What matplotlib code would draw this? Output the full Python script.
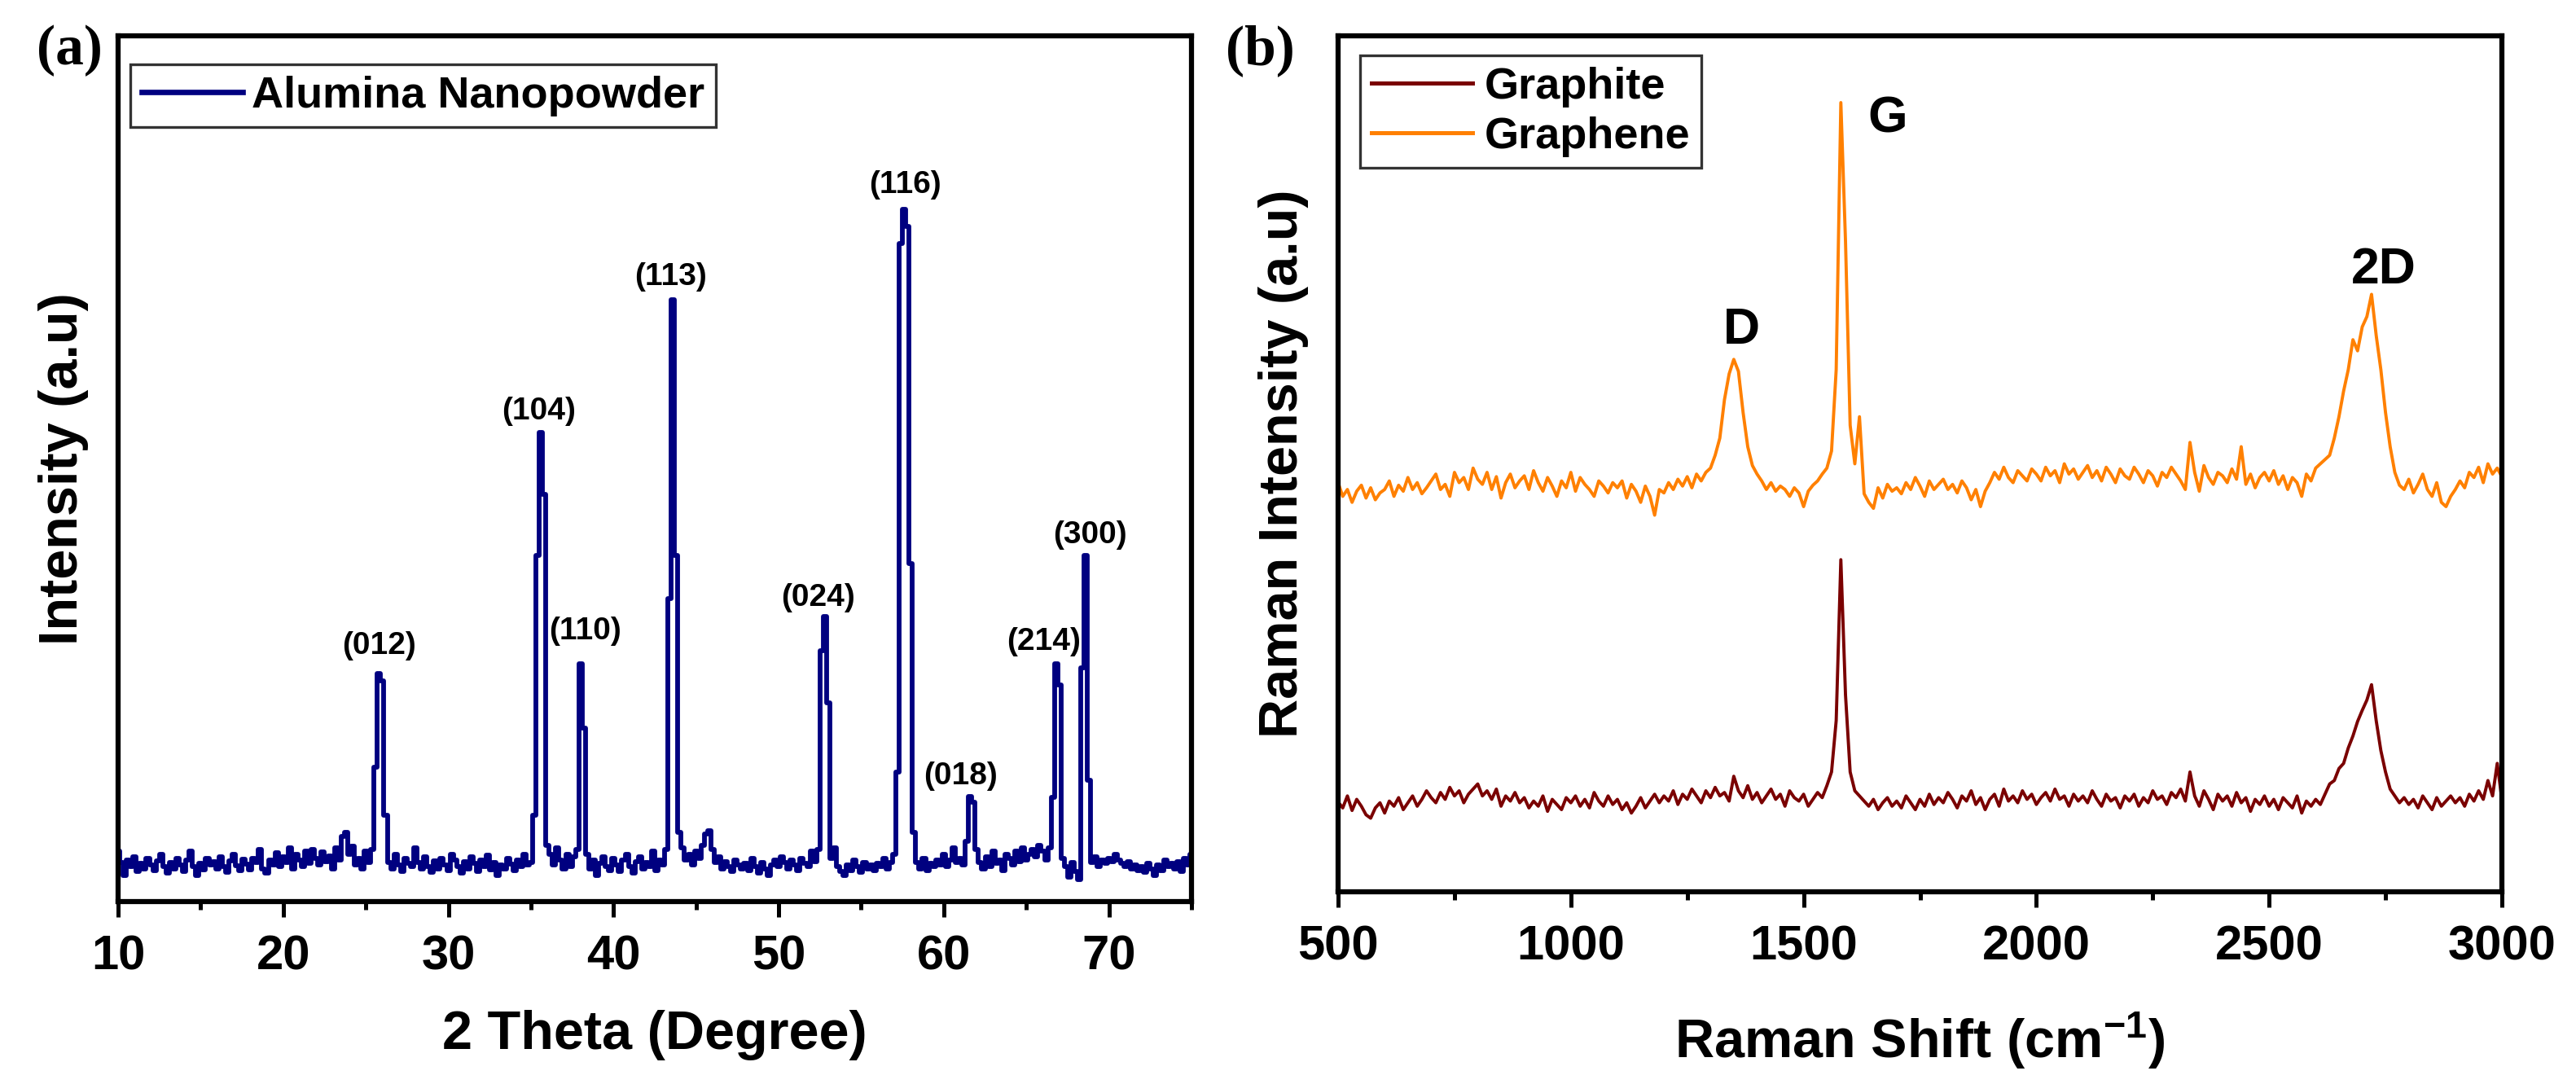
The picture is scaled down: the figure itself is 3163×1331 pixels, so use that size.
import numpy as np
import matplotlib
matplotlib.use("Agg")
import matplotlib.pyplot as plt

plt.rcParams['font.family'] = ['Liberation Sans', 'DejaVu Sans']
plt.rcParams['font.weight'] = 'bold'
plt.rcParams['mathtext.fontset'] = 'custom'
plt.rcParams['mathtext.rm'] = 'Liberation Sans:bold'
plt.rcParams['mathtext.bf'] = 'Liberation Sans:bold'
plt.rcParams['mathtext.it'] = 'Liberation Sans:bold:italic'

# ---- (a) XRD, 2 theta from 10 to 75 in 0.2 degree steps, intensity in a.u. ----
tt_start, tt_stop, tt_step = 10.0, 75.0, 0.2
xrd_counts = [
    58, 45, 30, 48, 40, 52, 35, 44, 38, 50,
    42, 36, 47, 55, 40, 33, 45, 38, 50, 42,
    35, 48, 58, 40, 30, 44, 37, 50, 42, 46,
    38, 52, 40, 34, 47, 55, 41, 36, 49, 43,
    37, 50, 45, 60, 38, 33, 48, 42, 56, 40,
    52, 45, 62, 38, 55, 48, 40, 58, 44, 60,
    50, 42, 57, 46, 53, 38, 62, 48, 75, 80,
    55, 64, 42, 50, 38, 58, 45, 60, 155, 263,
    255, 100, 45, 38, 55, 42, 35, 50, 44, 40,
    62, 45, 38, 52, 40, 34, 47, 38, 50, 42,
    36, 55, 48, 40, 33, 46, 38, 52, 44, 35,
    48, 40, 54, 37, 45, 30, 42, 38, 50, 43,
    36, 48, 40, 55, 42, 45, 100, 400, 542, 470,
    65, 55, 42, 62, 48, 38, 55, 40, 52, 60,
    275, 200, 55, 38, 48, 30, 44, 52, 40, 36,
    50, 42, 35, 48, 55, 40, 33, 46, 52, 38,
    45, 40, 58, 36, 48, 42, 60, 350, 695, 400,
    80, 62, 48, 55, 42, 58, 50, 65, 78, 82,
    60, 45, 52, 38, 46, 40, 35, 48, 42, 38,
    44, 36, 50, 40, 33, 45, 38, 30, 42, 48,
    40, 52, 45, 38, 48, 42, 36, 50, 44, 40,
    58, 46, 60, 290, 329, 230, 50, 62, 40, 35,
    30, 42, 36, 48, 40, 34, 45, 38, 42, 36,
    44, 40, 50, 38, 45, 55, 150, 760, 800, 780,
    390, 80, 45, 38, 50, 36, 44, 40, 48, 42,
    55, 40, 48, 62, 45, 50, 42, 70, 121, 115,
    60, 45, 38, 52, 40, 58, 44, 48, 36, 55,
    50, 42, 58, 46, 62, 48, 55, 60, 52, 65,
    58, 48, 62, 120, 275, 250, 50, 40, 28, 45,
    35, 25, 270, 400, 140, 45, 52, 40, 48, 44,
    50, 46, 55, 48, 44, 40, 46, 38, 42, 36,
    40, 34, 44, 38, 30, 42, 36, 48, 40, 44,
    38, 46, 35, 50, 42, 55,
]
hkl_labels = ['(012)', '(104)', '(110)', '(113)', '(024)', '(116)', '(018)', '(214)', '(300)']
hkl_tt = [25.8, 35.47, 38.3, 43.47, 52.4, 57.68, 61.0, 66.07, 68.84]
hkl_y = [295, 566, 312, 722, 351, 828, 145, 300, 423]

# ---- (b) Raman, 500 to 3000 cm-1 in 10 cm-1 steps ----
rs_start, rs_stop, rs_step = 500, 3000, 10
graphite = [
    105, 98, 112, 95, 108, 100, 90, 86, 98, 104,
    92, 106, 100, 110, 96, 104, 112, 100, 108, 118,
    110, 104, 116, 108, 122, 112, 118, 104, 114, 120,
    126, 112, 118, 108, 120, 100, 112, 106, 116, 104,
    110, 98, 106, 100, 112, 94, 108, 102, 96, 110,
    104, 112, 100, 108, 98, 116, 106, 100, 112, 102,
    108, 96, 104, 92, 100, 110, 98, 106, 114, 104,
    112, 106, 118, 102, 114, 108, 120, 112, 104, 118,
    110, 122, 112, 116, 106, 135, 118, 110, 124, 108,
    116, 104, 112, 120, 108, 114, 100, 118, 110, 106,
    114, 100, 108, 116, 110, 124, 140, 200, 388, 230,
    140, 118, 112, 106, 100, 108, 96, 104, 110, 100,
    106, 98, 112, 104, 96, 108, 100, 114, 102, 110,
    104, 116, 108, 98, 112, 106, 118, 102, 110, 96,
    108, 114, 100, 120, 106, 112, 104, 118, 108, 114,
    102, 110, 116, 106, 120, 108, 112, 100, 114, 106,
    112, 104, 118, 108, 100, 114, 106, 110, 98, 112,
    106, 114, 100, 110, 104, 118, 108, 112, 102, 116,
    110, 120, 106, 140, 112, 100, 118, 108, 96, 114,
    106, 112, 100, 116, 104, 110, 94, 108, 102, 112,
    100, 108, 96, 110, 104, 98, 112, 92, 106, 100,
    108, 102, 114, 126, 130, 144, 150, 168, 182, 199,
    212, 224, 242, 200, 165, 140, 120, 112, 104, 110,
    102, 108, 98, 112, 104, 96, 110, 100, 106, 112,
    104, 110, 100, 114, 106, 118, 108, 130, 112, 150,
    108,
]
graphene = [
    478, 462, 470, 455, 468, 475, 460, 472, 458, 466,
    470, 480, 462, 475, 468, 484, 470, 478, 465, 472,
    480, 488, 470, 476, 462, 490, 478, 484, 470, 495,
    482, 476, 490, 470, 485, 460, 478, 488, 472, 480,
    486, 470, 492, 478, 468, 484, 474, 462, 480, 472,
    490, 468, 484, 476, 470, 462, 480, 474, 466, 478,
    472, 480, 460, 476, 468, 455, 474, 462, 440, 470,
    466, 478, 470, 482, 474, 485, 472, 488, 480, 490,
    495, 510, 530, 575, 605, 622, 608, 560, 520, 498,
    488, 480, 470, 478, 468, 474, 470, 462, 472, 466,
    450, 468, 475, 480, 488, 495, 515, 610, 922, 760,
    545, 500, 555, 465, 455, 448, 472, 460, 476, 468,
    472, 465, 478, 470, 484, 474, 462, 480, 470, 476,
    482, 470, 476, 466, 480, 472, 458, 470, 450, 468,
    478, 490, 482, 496, 484, 478, 492, 486, 480, 494,
    488, 480, 496, 486, 492, 478, 500, 488, 494, 482,
    490, 498, 484, 492, 480, 496, 488, 478, 494, 486,
    482, 496, 488, 478, 492, 486, 474, 490, 484, 496,
    488, 480, 470, 525, 490, 468, 498, 484, 476, 490,
    486, 478, 494, 482, 520, 476, 488, 472, 484, 490,
    480, 492, 476, 486, 470, 484, 478, 462, 488, 480,
    495, 500, 505, 510, 530, 555, 585, 610, 645, 632,
    660, 672, 698, 650, 610, 560, 520, 490, 475, 470,
    482, 466, 476, 488, 470, 462, 478, 455, 450, 462,
    470, 480, 472, 490, 484, 496, 478, 500, 488, 495,
    485,
]
band_labels = ['D', 'G', '2D']
band_x = [1366, 1681, 2746]
band_y = [656, 903, 726]

two_theta = np.round(np.arange(tt_start, tt_stop + tt_step / 2, tt_step), 1)
shift = np.arange(rs_start, rs_stop + 1, rs_step)

W, H = 3163, 1331
fig = plt.figure(figsize=(W / 100, H / 100), dpi=100)

ax1 = fig.add_axes([145 / W, 1 - 1107 / H, 1318 / W, 1063 / H])
ax2 = fig.add_axes([1643 / W, 1 - 1095 / H, 1429 / W, 1051 / H])

# panel a
ax1.plot(two_theta, xrd_counts, color='#000080', lw=4.2, drawstyle='steps-mid',
         label='Alumina Nanopowder')
for lab, x, y in zip(hkl_labels, hkl_tt, hkl_y):
    ax1.text(x, y, lab, ha='center', va='center', fontsize=28, fontweight='bold')
ax1.set_xlim(10, 75)
ax1.set_ylim(0, 1000)
ax1.set_xticks(np.arange(10, 71, 10))
ax1.set_xticks(np.arange(15, 76, 10), minor=True)
ax1.set_xlabel('2 Theta (Degree)', fontsize=48, fontweight='bold')
ax1.set_ylabel('Intensity (a.u)', fontsize=48, fontweight='bold', labelpad=26)
ax1.xaxis.set_label_coords(0.5, -0.125)
leg1 = ax1.legend(loc='upper left', bbox_to_anchor=(0.0114, 0.967), borderaxespad=0,
                  fontsize=39, frameon=True, fancybox=False, edgecolor='black',
                  handlelength=2.3, handletextpad=0.2, borderpad=0.25)

# panel b
ax2.plot(shift, graphite, color='#7a0000', lw=2.8, label='Graphite')
ax2.plot(shift, graphene, color='#ff8000', lw=2.8, label='Graphene')
for lab, x, y in zip(band_labels, band_x, band_y):
    ax2.text(x, y, lab, ha='center', va='center', fontsize=45, fontweight='bold')
ax2.set_xlim(500, 3000)
ax2.set_ylim(0, 1000)
ax2.set_xticks(np.arange(500, 3001, 500))
ax2.set_xticks(np.arange(750, 3000, 500), minor=True)
ax2.set_xlabel('Raman Shift (cm$^{-1}$)', fontsize=48, fontweight='bold')
ax2.set_ylabel('Raman Intensity (a.u)', fontsize=48, fontweight='bold', labelpad=26)
ax2.xaxis.set_label_coords(0.5, -0.138)
leg2 = ax2.legend(loc='upper left', bbox_to_anchor=(0.019, 0.977), borderaxespad=0,
                  fontsize=39, frameon=True, fancybox=False, edgecolor='black',
                  handlelength=2.3, handletextpad=0.26, borderpad=0.25, labelspacing=0.2)

for leg, lw in ((leg1, 4.8), (leg2, 3.6)):
    leg.get_frame().set_linewidth(2.4)
    for line in leg.get_lines():
        line.set_linewidth(lw)

for ax in (ax1, ax2):
    for sp in ax.spines.values():
        sp.set_linewidth(4.5)
    ax.tick_params(axis='x', which='major', direction='out', length=14, width=3.6,
                   labelsize=43, pad=15)
    ax.tick_params(axis='x', which='minor', direction='out', length=7, width=3.6)
    ax.tick_params(axis='y', which='both', left=False, labelleft=False)
    for t in ax.get_xticklabels():
        t.set_fontweight('bold')

fig.text(85 / W, 1 - 62 / H, '(a)', ha='center', va='center', fontsize=50,
         fontweight='bold', family=['Liberation Serif', 'DejaVu Serif'])
fig.text(1547 / W, 1 - 62 / H, '(b)', ha='center', va='center', fontsize=50,
         fontweight='bold', family=['Liberation Serif', 'DejaVu Serif'])

fig.savefig('out.png', dpi=100)
